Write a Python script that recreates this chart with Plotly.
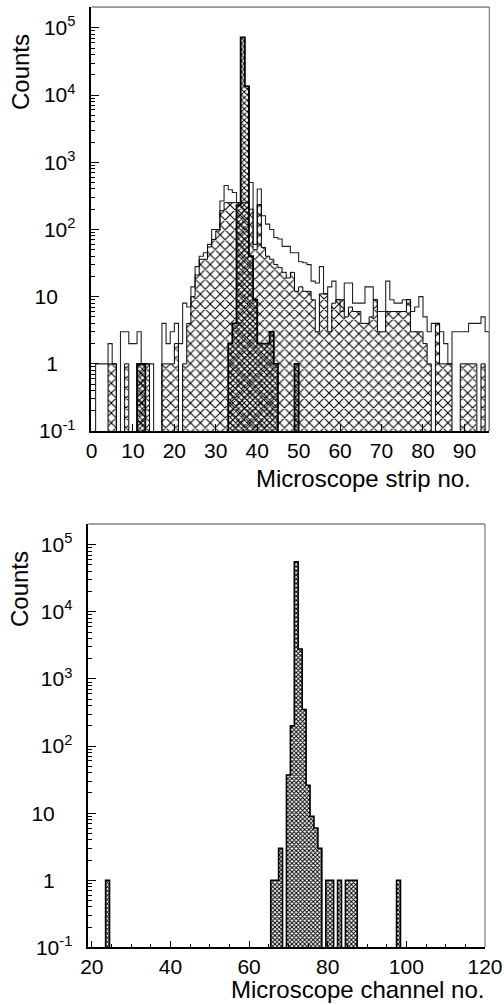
import plotly.graph_objects as go

# ---------------- data: top panel (strip histogram, bins [k, k+1)) ----------------
strip_no = list(range(96))
total_counts = [0, 1, 1, 1, 2, 1, 0, 3, 3, 2, 2, 3, 1, 1, 1, 0, 0, 4, 2, 3,
                4, 2, 8, 7, 14, 28, 40, 45, 60, 100, 100, 265, 450, 390, 355, 250,
                72000, 13500, 500, 60, 400, 160, 120, 100, 76, 72, 56, 56, 45, 45,
                33, 32, 30, 17, 16, 28, 11, 14, 17, 9, 6, 16, 16, 8, 8, 8, 14, 14,
                9, 6, 6, 17, 9, 8, 8, 9, 9, 6, 7, 10, 5, 3, 4, 4, 3, 2, 1, 3, 3, 3,
                3, 4, 4, 4, 5, 3]
wide_hatch_counts = [0, 0, 0, 0, 1, 1, 0, 0, 1, 0, 0, 1, 1, 1, 0, 0, 0, 1, 1, 1,
                     2, 0, 1, 4, 10, 21, 36, 36, 55, 71, 95, 190, 250, 250, 250, 250,
                     250, 250, 200, 50, 235, 54, 40, 36, 30, 27, 23, 19, 23, 12,
                     14, 12, 12, 9, 3, 11, 11, 3, 8, 9, 9, 5, 7, 6, 6, 4, 4, 5,
                     9, 3, 3, 6, 6, 6, 6, 6, 9, 3, 3, 3, 2, 1, 0, 4, 1, 1, 1, 0, 0, 1,
                     1, 1, 1, 0, 1, 0]
dense_strip_no = [11, 12, 33, 34, 35, 36, 37, 38, 39, 40, 41, 42, 43, 44, 49]
dense_hatch_counts = [1, 1, 2, 4, 230, 72000, 13500, 40, 9, 2, 2, 2, 3, 1, 1]

# ---------------- data: bottom panel (channel histogram, bins centred on channel) ----
channel_no = [24, 66, 67, 68, 70, 71, 72, 73, 74, 75, 76, 77, 78, 80, 81, 83, 85, 86, 87, 98]
channel_counts = [1, 1, 1, 3, 37, 200, 56000, 2800, 350, 26, 9, 6, 3, 1, 1, 1, 1, 1, 1, 1]

NB = "\u00a0\u00a0\u00a0"
y_tickvals = [0.1, 1, 10, 100, 1000, 10000, 100000]
y_ticktext = ["10<sup>-1</sup>", "1" + NB, "10" + NB,
              "10<sup>2</sup>", "10<sup>3</sup>", "10<sup>4</sup>", "10<sup>5</sup>"]

FONT = "Liberation Sans, Arial, Helvetica, sans-serif"
FLOOR = 1e-3  # zero bins drawn below the visible range


def step_xy(lefts, vals, width=1.0):
    xs, ys = [lefts[0]], [FLOOR]
    for l, v in zip(lefts, vals):
        vv = v if v > 0 else FLOOR
        xs += [l, l + width]
        ys += [vv, vv]
    xs.append(lefts[-1] + width)
    ys.append(FLOOR)
    return xs, ys


def dense_series(keys, vals, lo, hi):
    d = dict(zip(keys, vals))
    ks = list(range(lo, hi + 1))
    return ks, [d.get(k, 0) for k in ks]


fig = go.Figure()

# ---- top panel ----
fig.add_trace(go.Bar(
    x=[k + 0.5 for k in strip_no],
    y=[v if v > 0 else None for v in wide_hatch_counts],
    width=1.0, xaxis="x", yaxis="y",
    marker=dict(color="black", line=dict(width=0),
                pattern=dict(shape="x", size=7, solidity=0.28, fillmode="replace")),
    showlegend=False))

dk, dv = dense_series(dense_strip_no, dense_hatch_counts, 0, 95)
fig.add_trace(go.Bar(
    x=[k + 0.5 for k in dk],
    y=[v if v > 0 else None for v in dv],
    width=1.0, xaxis="x", yaxis="y",
    marker=dict(color="black", line=dict(width=0),
                pattern=dict(shape="x", size=4, solidity=0.42, fillmode="replace")),
    showlegend=False))

sx, sy = step_xy(strip_no, total_counts)
fig.add_trace(go.Scatter(x=sx, y=sy, mode="lines", xaxis="x", yaxis="y",
                         line=dict(color="#222", width=1.1), showlegend=False))
sx, sy = step_xy(strip_no, wide_hatch_counts)
fig.add_trace(go.Scatter(x=sx, y=sy, mode="lines", xaxis="x", yaxis="y",
                         line=dict(color="black", width=1.0), showlegend=False))
sx, sy = step_xy(dk, dv)
fig.add_trace(go.Scatter(x=sx, y=sy, mode="lines", xaxis="x", yaxis="y",
                         line=dict(color="black", width=1.8), showlegend=False))

# ---- bottom panel ----
ck, cv = dense_series(channel_no, channel_counts, 20, 119)
fig.add_trace(go.Bar(
    x=ck, y=[v if v > 0 else None for v in cv],
    width=1.0, xaxis="x2", yaxis="y2",
    marker=dict(color="black", line=dict(width=0),
                pattern=dict(shape="x", size=3, solidity=0.55, fillmode="replace")),
    showlegend=False))
sx, sy = step_xy([k - 0.5 for k in ck], cv)
fig.add_trace(go.Scatter(x=sx, y=sy, mode="lines", xaxis="x2", yaxis="y2",
                         line=dict(color="black", width=1.6), showlegend=False))

axis_common = dict(showline=True, linecolor="black", linewidth=1.6, showgrid=False,
                   zeroline=False, ticks="inside", tickcolor="black", automargin=False,
                   tickfont=dict(family=FONT, size=21, color="black"))

yaxis_common = dict(axis_common, type="log", range=[-1, 5.31], tickmode="array",
                    tickvals=y_tickvals, ticktext=y_ticktext, ticklen=8,
                    ticklabelstandoff=10,
                    minor=dict(ticks="inside", ticklen=4, dtick="D1", tickcolor="black",
                               showgrid=False))

fig.update_layout(
    width=504, height=1005, autosize=False,
    margin=dict(l=0, r=0, t=0, b=0),
    paper_bgcolor="white", plot_bgcolor="white",
    barmode="overlay", bargap=0,
    font=dict(family=FONT, color="black"),
    xaxis=dict(axis_common, domain=[0.1815, 0.9708], anchor="y", range=[0, 96],
               tickmode="linear", tick0=0, dtick=10, ticklen=7),
    yaxis=dict(yaxis_common, domain=[0.5711, 0.9930], anchor="x"),
    xaxis2=dict(axis_common, domain=[0.1752, 0.9623], anchor="y2", range=[19.1, 120],
                tickmode="linear", tick0=0, dtick=20, ticklen=7,
                minor=dict(ticks="inside", ticklen=4, dtick=5, tick0=0,
                           tickcolor="black", showgrid=False)),
    yaxis2=dict(yaxis_common, domain=[0.0574, 0.4786], anchor="x2"),
)

# frame top/right borders (thin)
for xr, yr in (("x domain", "y domain"), ("x2 domain", "y2 domain")):
    fig.add_shape(type="line", xref=xr, yref=yr, x0=0, x1=1, y0=1, y1=1,
                  line=dict(color="#444", width=1))
    fig.add_shape(type="line", xref=xr, yref=yr, x0=1, x1=1, y0=0, y1=1,
                  line=dict(color="#666", width=1))

ann_font = dict(family=FONT, size=24, color="black")
fig.add_annotation(text="Microscope strip no.", xref="paper", yref="paper",
                   x=473 / 504, y=1 - 478 / 1005, xanchor="right", yanchor="middle",
                   showarrow=False, font=ann_font)
fig.add_annotation(text="Microscope channel no.", xref="paper", yref="paper",
                   x=486 / 504, y=1 - 989 / 1005, xanchor="right", yanchor="middle",
                   showarrow=False, font=ann_font)
fig.add_annotation(text="Counts", xref="paper", yref="paper", textangle=-90,
                   x=21 / 504, y=1 - 72 / 1005, xanchor="center", yanchor="middle",
                   showarrow=False, font=ann_font)
fig.add_annotation(text="Counts", xref="paper", yref="paper", textangle=-90,
                   x=19 / 504, y=1 - 589 / 1005, xanchor="center", yanchor="middle",
                   showarrow=False, font=ann_font)

fig.write_html(
    "out.html",
    config={"responsive": False, "displayModeBar": False},
    post_script=(
        "document.documentElement.style.margin='0';"
        "document.body.style.margin='0';document.body.style.padding='0';"
        "document.body.style.overflow='hidden';"
    ),
)
